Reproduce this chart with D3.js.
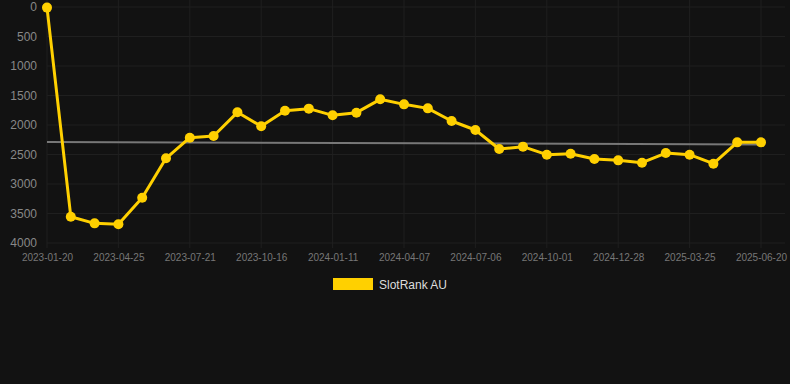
<!DOCTYPE html>
<html>
<head>
<meta charset="utf-8">
<script src="https://cdn.jsdelivr.net/npm/d3@7"></script>
<style>
  html, body { margin: 0; padding: 0; background: #121212; }
  svg { display: block; font-family: "Liberation Sans", Arial, sans-serif; }
</style>
</head>
<body>
<div id="chart"></div>
<script>
// x labels shown on every third point
const tickLabels = ["2023-01-20", "2023-04-25", "2023-07-21", "2023-10-16", "2024-01-11",
    "2024-04-07", "2024-07-06", "2024-10-01", "2024-12-28", "2025-03-25", "2025-06-20"];
const rankValues = [10, 3554, 3667, 3683, 3232, 2565, 2215, 2186, 1785, 2022, 1757,
    1723, 1836, 1791, 1565, 1650, 1718, 1932, 2085, 2407, 2367, 2503,
    2486, 2576, 2599, 2639, 2475, 2503, 2656, 2294, 2294];
const trendValues = [2288, 2330];
const yTicks = [0, 500, 1000, 1500, 2000, 2500, 3000, 3500, 4000];
const seriesName = "SlotRank AU";

(() => {
    const width = 790;
    const height = 384;
    const margin = { top: 7, right: 29, bottom: 141, left: 47 };
    const innerW = width - margin.left - margin.right;
    const innerH = height - margin.top - margin.bottom;

    const svg = d3.select("#chart")
        .append("svg")
        .attr("width", width)
        .attr("height", height);

    const g = svg.append("g")
        .attr("transform", `translate(${margin.left}, ${margin.top})`);

    const x = d3.scaleLinear().domain([0, rankValues.length - 1]).range([0, innerW]);
    const y = d3.scaleLinear().domain([0, 4000]).range([0, innerH]);

    const tickIdx = tickLabels.map((d, i) => i * 3);

    // grid
    g.append("g")
        .selectAll("line")
        .data(yTicks)
        .join("line")
        .attr("x1", 0)
        .attr("x2", innerW + 24)
        .attr("y1", d => y(d))
        .attr("y2", d => y(d))
        .attr("stroke", "#1f1f1f")
        .attr("stroke-width", 1);

    g.append("g")
        .selectAll("line")
        .data(tickIdx)
        .join("line")
        .attr("x1", d => x(d))
        .attr("x2", d => x(d))
        .attr("y1", -margin.top)
        .attr("y2", innerH + 5)
        .attr("stroke", "#1f1f1f")
        .attr("stroke-width", 1);

    // y axis
    const yAxis = g.append("g")
        .call(d3.axisLeft(y).tickValues(yTicks).tickFormat(d3.format("d")).tickSize(0).tickPadding(10));
    yAxis.select(".domain").remove();
    yAxis.selectAll("text")
        .attr("fill", "#888")
        .style("font-size", "12px");

    // x axis
    const xAxis = g.append("g")
        .attr("transform", `translate(0, ${innerH})`)
        .call(d3.axisBottom(x).tickValues(tickIdx).tickFormat((d, i) => tickLabels[i]).tickSize(0).tickPadding(11));
    xAxis.select(".domain").remove();
    xAxis.selectAll("text")
        .attr("fill", "#777")
        .style("font-size", "10px");

    // trend line
    g.append("line")
        .attr("x1", x(0))
        .attr("x2", x(rankValues.length - 1))
        .attr("y1", y(trendValues[0]))
        .attr("y2", y(trendValues[1]))
        .attr("stroke", "#777")
        .attr("stroke-width", 2);

    // series
    g.append("path")
        .datum(rankValues)
        .attr("fill", "none")
        .attr("stroke", "#ffd000")
        .attr("stroke-width", 3)
        .attr("stroke-linejoin", "round")
        .attr("d", d3.line().x((d, i) => x(i)).y(d => y(d)));

    g.append("g")
        .selectAll("circle")
        .data(rankValues)
        .join("circle")
        .attr("cx", (d, i) => x(i))
        .attr("cy", d => y(d))
        .attr("r", 5)
        .attr("fill", "#ffd000");

    // legend
    const legend = svg.append("g").attr("transform", "translate(333, 278)");
    legend.append("rect")
        .attr("width", 40)
        .attr("height", 12)
        .attr("fill", "#ffd000");
    legend.append("text")
        .attr("x", 46)
        .attr("y", 10.5)
        .attr("fill", "#ddd")
        .style("font-size", "12px")
        .text(seriesName);
})();
</script>
</body>
</html>
